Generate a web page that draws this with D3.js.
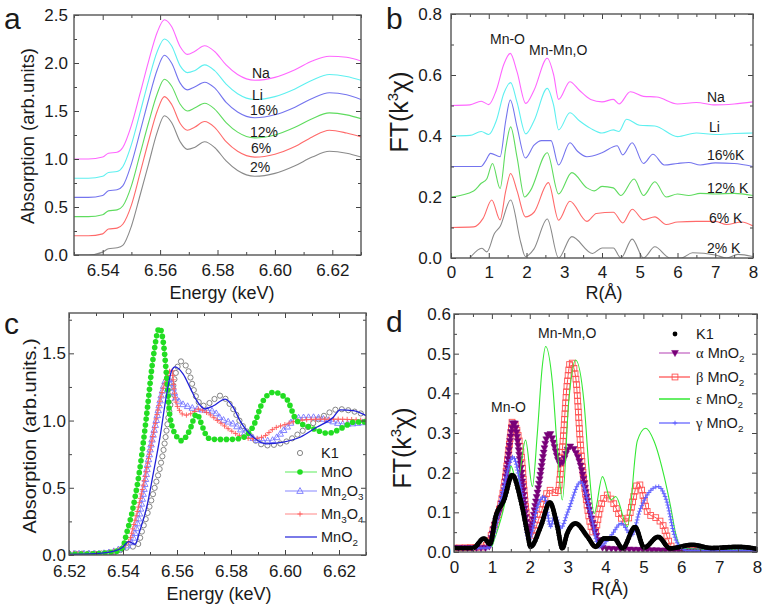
<!DOCTYPE html>
<html><head><meta charset="utf-8">
<script src="https://cdn.jsdelivr.net/npm/d3@7"></script>
<style>
body{margin:0;background:#fff}
svg{display:block}
text{font-family:"Liberation Sans",Arial,sans-serif;fill:#1a1a1a}
</style>
</head><body>
<svg id="chart" width="768" height="613"></svg>
<script>
// ---------------- Panel a data (XANES, shifted) ----------------
const energyA=[6.530,6.535,6.540,6.542,6.545,6.547,6.550,6.553,6.556,6.559,6.5615,6.564,6.567,6.5695,6.572,6.5755,6.579,6.583,6.587,6.593,6.600,6.607,6.613,6.619,6.625,6.630];
const absNa =[1.00,1.00,1.02,1.06,1.07,1.12,1.35,1.68,2.02,2.32,2.45,2.38,2.17,2.09,2.12,2.18,2.12,1.98,1.88,1.82,1.85,1.93,2.02,2.07,2.06,2.02];
const absLi =[0.80,0.80,0.82,0.86,0.87,0.92,1.15,1.48,1.82,2.12,2.25,2.18,1.97,1.90,1.92,1.98,1.92,1.78,1.68,1.62,1.65,1.73,1.82,1.88,1.86,1.82];
const abs16 =[0.60,0.60,0.62,0.67,0.68,0.72,0.95,1.28,1.62,1.93,2.08,2.00,1.79,1.72,1.75,1.80,1.74,1.59,1.49,1.43,1.46,1.54,1.63,1.69,1.67,1.62];
const abs12 =[0.40,0.40,0.42,0.46,0.47,0.51,0.72,1.05,1.38,1.68,1.83,1.76,1.57,1.50,1.53,1.58,1.52,1.38,1.28,1.22,1.25,1.33,1.42,1.48,1.46,1.42];
const abs6  =[0.20,0.20,0.22,0.27,0.28,0.32,0.52,0.85,1.19,1.50,1.65,1.57,1.37,1.30,1.33,1.39,1.33,1.18,1.08,1.02,1.05,1.13,1.23,1.30,1.27,1.23];
const abs2  =[0.00,0.00,0.03,0.065,0.075,0.10,0.30,0.62,0.95,1.28,1.45,1.38,1.18,1.10,1.12,1.18,1.12,0.98,0.88,0.82,0.85,0.93,1.02,1.08,1.06,1.02];
const labelsA=["Na","Li","16%","12%","6%","2%"];

// ---------------- Panel b data (FT, shifted) ----------------
const ftNa=[[0,0.50],[0.5,0.502],[0.8,0.514],[1.0,0.503],[1.2,0.55],[1.4,0.635],[1.57,0.671],[1.75,0.61],[1.98,0.507],[2.2,0.55],[2.55,0.655],[2.72,0.60],[2.85,0.52],[3.15,0.578],[3.4,0.55],[3.7,0.52],[4.0,0.512],[4.3,0.52],[4.45,0.505],[4.75,0.545],[5.1,0.53],[5.45,0.528],[6.0,0.505],[6.5,0.51],[7.0,0.502],[7.5,0.505],[8.0,0.512]];
const ftLi=[[0,0.40],[0.5,0.402],[0.8,0.415],[1.0,0.405],[1.2,0.45],[1.4,0.54],[1.58,0.575],[1.75,0.51],[1.98,0.407],[2.2,0.45],[2.55,0.556],[2.72,0.50],[2.85,0.42],[3.15,0.476],[3.4,0.45],[3.7,0.425],[4.0,0.41],[4.3,0.42],[4.45,0.415],[4.65,0.455],[5.0,0.435],[5.4,0.433],[6.0,0.398],[6.5,0.41],[7.0,0.405],[7.5,0.408],[8.0,0.41]];
const ft16=[[0,0.30],[0.8,0.30],[0.9,0.315],[1.05,0.343],[1.3,0.332],[1.45,0.45],[1.57,0.518],[1.75,0.43],[1.97,0.328],[2.2,0.37],[2.4,0.385],[2.65,0.385],[2.85,0.305],[3.15,0.378],[3.35,0.35],[3.6,0.332],[4.0,0.345],[4.4,0.368],[4.55,0.338],[4.8,0.378],[5.1,0.31],[5.35,0.34],[5.65,0.305],[6.0,0.31],[6.3,0.313],[6.6,0.305],[7.0,0.312],[7.5,0.31],[8.0,0.30]];
const ft12=[[0,0.20],[0.6,0.22],[0.8,0.245],[0.95,0.26],[1.1,0.31],[1.3,0.228],[1.45,0.36],[1.58,0.43],[1.75,0.33],[1.95,0.20],[2.1,0.22],[2.55,0.345],[2.85,0.21],[3.2,0.28],[3.6,0.23],[3.8,0.22],[4.0,0.235],[4.3,0.23],[4.5,0.205],[4.85,0.259],[5.1,0.205],[5.4,0.25],[5.7,0.20],[6.0,0.21],[6.3,0.205],[6.6,0.212],[7.0,0.21],[7.5,0.212],[8.0,0.205]];
const ft6=[[0,0.10],[0.6,0.102],[0.85,0.13],[1.08,0.19],[1.3,0.125],[1.45,0.22],[1.58,0.277],[1.75,0.22],[1.97,0.135],[2.2,0.15],[2.58,0.247],[2.85,0.124],[3.15,0.186],[3.6,0.12],[3.85,0.146],[4.3,0.15],[4.55,0.115],[4.8,0.16],[5.1,0.125],[5.4,0.135],[5.7,0.11],[6.0,0.118],[6.5,0.12],[7.0,0.12],[7.3,0.11],[7.7,0.118],[8.0,0.105]];
const ft2=[[0.5,0.0],[0.82,0.032],[0.95,0.02],[1.15,0.08],[1.3,0.103],[1.58,0.19],[1.85,0.05],[1.97,0.005],[2.2,0.03],[2.55,0.128],[2.85,0.0],[3.2,0.07],[3.75,0.015],[4.0,0.033],[4.3,0.033],[4.5,0.0],[4.8,0.062],[5.1,0.0],[5.4,0.037],[5.8,0.0],[6.1,0.0],[6.4,0.017],[7.0,0.01],[7.3,0.0],[7.6,0.012],[8.0,0.005]];
const labelsB=["Na","Li","16%K","12% K","6% K","2% K"];

// ---------------- Panel c data (XANES references) ----------------
const k1C=[[6.520,0.01],[6.530,0.01],[6.537,0.02],[6.540,0.045],[6.5425,0.06],[6.545,0.065],[6.5475,0.21],[6.5512,0.46],[6.555,0.78],[6.5574,1.10],[6.5595,1.35],[6.5615,1.44],[6.564,1.38],[6.567,1.18],[6.5695,1.11],[6.572,1.13],[6.576,1.185],[6.580,1.11],[6.584,0.97],[6.588,0.87],[6.593,0.815],[6.600,0.84],[6.607,0.93],[6.614,1.03],[6.620,1.085],[6.625,1.07],[6.630,1.04]];
const mnoC=[[6.520,0.005],[6.530,0.01],[6.538,0.03],[6.5401,0.06],[6.5407,0.11],[6.5438,0.36],[6.5463,0.65],[6.5488,1.05],[6.5512,1.47],[6.5535,1.69],[6.555,1.57],[6.5562,1.32],[6.5574,1.03],[6.5599,0.88],[6.5617,0.85],[6.5645,0.92],[6.5673,1.05],[6.5695,0.95],[6.5715,0.87],[6.574,0.86],[6.580,0.86],[6.584,0.87],[6.5883,0.96],[6.592,1.15],[6.5957,1.21],[6.6006,1.16],[6.6043,1.00],[6.6093,0.95],[6.616,0.906],[6.6216,0.95],[6.6253,0.988],[6.630,0.99]];
const mn2o3C=[[6.520,0.01],[6.530,0.01],[6.537,0.03],[6.540,0.06],[6.5425,0.08],[6.5451,0.21],[6.5475,0.457],[6.550,0.78],[6.5525,1.02],[6.5543,1.2],[6.5562,1.31],[6.5575,1.30],[6.5599,1.16],[6.5648,1.10],[6.5697,1.08],[6.5735,1.07],[6.576,1.02],[6.5809,0.975],[6.5858,0.90],[6.5907,0.852],[6.5944,0.85],[6.6006,0.95],[6.6043,1.02],[6.6105,1.025],[6.6166,1.0],[6.6216,0.975],[6.630,0.99]];
const mn3o4C=[[6.520,0.01],[6.530,0.01],[6.537,0.03],[6.540,0.06],[6.5426,0.12],[6.5438,0.21],[6.5463,0.41],[6.5488,0.65],[6.5512,0.90],[6.5537,1.15],[6.5562,1.32],[6.558,1.38],[6.5593,1.17],[6.5611,1.07],[6.563,1.04],[6.566,1.06],[6.5679,1.085],[6.571,1.06],[6.575,1.0],[6.5809,0.913],[6.584,0.88],[6.588,0.865],[6.592,0.88],[6.5957,0.938],[6.600,0.97],[6.605,1.0],[6.612,1.01],[6.620,1.01],[6.630,1.0]];
const mno2C=[[6.520,0.005],[6.530,0.01],[6.537,0.03],[6.540,0.06],[6.542,0.10],[6.5445,0.08],[6.5463,0.185],[6.5488,0.357],[6.5512,0.605],[6.5537,0.876],[6.5562,1.2],[6.558,1.37],[6.5593,1.40],[6.5623,1.346],[6.5648,1.247],[6.5673,1.148],[6.5704,1.087],[6.5735,1.11],[6.5778,1.16],[6.5808,1.10],[6.5833,1.0],[6.5883,0.876],[6.5932,0.827],[6.5994,0.84],[6.6056,0.876],[6.6117,0.95],[6.6179,1.025],[6.6204,1.08],[6.6253,1.074],[6.630,1.037]];

// ---------------- Panel d data (FT references) ----------------
const k1D=[[0,0.01],[0.5,0.01],[0.79,0.034],[0.95,0.02],[1.1,0.089],[1.32,0.131],[1.54,0.194],[1.76,0.131],[1.94,0.047],[2.02,0.013],[2.29,0.064],[2.53,0.125],[2.73,0.064],[2.86,0.009],[2.99,0.047],[3.21,0.072],[3.52,0.039],[3.74,0.013],[3.96,0.034],[4.23,0.034],[4.45,0.009],[4.78,0.063],[5.02,0.011],[5.39,0.038],[5.70,0.009],[6.29,0.018],[6.8,0.01],[7.5,0.013],[8.0,0.008]];
const alphaD=[[0,0.01],[0.9,0.01],[1.06,0.064],[1.32,0.148],[1.58,0.329],[1.76,0.215],[1.98,0.047],[2.2,0.148],[2.51,0.30],[2.82,0.22],[3.06,0.266],[3.35,0.215],[3.52,0.131],[3.74,0.047],[3.96,0.009],[5.0,0.005],[6.0,0.003],[8.0,0.002]];
const betaD=[[0,0.01],[0.8,0.013],[1.06,0.064],[1.32,0.165],[1.50,0.30],[1.54,0.329],[1.76,0.257],[1.89,0.114],[2.02,0.039],[2.29,0.097],[2.51,0.156],[2.73,0.148],[2.86,0.257],[2.99,0.425],[3.08,0.48],[3.21,0.442],[3.35,0.257],[3.52,0.114],[3.70,0.047],[3.87,0.114],[4.03,0.144],[4.21,0.123],[4.42,0.085],[4.55,0.076],[4.87,0.173],[5.13,0.097],[5.35,0.085],[5.49,0.072],[5.75,0.013],[5.95,0.005],[8.0,0.003]];
const epsD=[[1.0,0.013],[1.06,0.03],[1.32,0.114],[1.45,0.18],[1.5,0.217],[1.67,0.173],[1.89,0.282],[2.07,0.165],[2.2,0.299],[2.33,0.467],[2.42,0.518],[2.6,0.425],[2.73,0.257],[2.86,0.131],[3.03,0.38],[3.21,0.484],[3.43,0.38],[3.56,0.215],[3.70,0.097],[3.92,0.19],[4.14,0.131],[4.27,0.14],[4.58,0.064],[4.84,0.28],[5.06,0.312],[5.28,0.28],[5.55,0.19],[5.72,0.114],[5.85,0.047],[6.03,0.009],[8.0,0.005]];
const gammaD=[[0,0.01],[0.9,0.01],[1.06,0.047],[1.32,0.165],[1.56,0.24],[1.76,0.165],[1.98,0.03],[2.2,0.114],[2.38,0.14],[2.55,0.064],[2.66,0.093],[2.82,0.06],[3.0,0.10],[3.35,0.177],[3.61,0.097],[3.83,0.013],[4.13,0.039],[4.42,0.072],[4.69,0.042],[4.91,0.106],[5.13,0.148],[5.39,0.165],[5.61,0.13],[5.83,0.039],[5.96,0.013],[6.2,0.003],[8.0,0.003]];

// ---------------- tick values ----------------
const ticksAx=[6.54,6.56,6.58,6.60,6.62], minorAx=[6.53,6.55,6.57,6.59,6.61,6.63];
const ticksAy=[0,0.5,1.0,1.5,2.0,2.5], minorAy=[0.25,0.75,1.25,1.75,2.25];
const ticksBx=[0,1,2,3,4,5,6,7,8], minorBx=[0.5,1.5,2.5,3.5,4.5,5.5,6.5,7.5];
const ticksBy=[0,0.2,0.4,0.6,0.8], minorBy=[0.1,0.3,0.5,0.7];
const ticksCx=[6.52,6.54,6.56,6.58,6.60,6.62], minorCx=[6.53,6.55,6.57,6.59,6.61,6.63];
const ticksCy=[0,0.5,1.0,1.5], minorCy=[0.25,0.75,1.25,1.75];
const ticksDx=[0,1,2,3,4,5,6,7,8], minorDx=[0.5,1.5,2.5,3.5,4.5,5.5,6.5,7.5];
const ticksDy=[0,0.1,0.2,0.3,0.4,0.5,0.6], minorDy=[0.05,0.15,0.25,0.35,0.45,0.55];

const colA=["#ff66ff","#5ef0f0","#7474ee","#5fdc5f","#ff6a6a","#8a8a8a"];

const svg=d3.select("#chart");
const FONT='"Liberation Sans",Arial,sans-serif';

function makePanel(c){
  const x=d3.scaleLinear().domain(c.xd).range([c.l,c.r]);
  const y=d3.scaleLinear().domain(c.yd).range([c.b,c.t]);
  const g=svg.append("g");
  svg.append("clipPath").attr("id","clip"+c.name).append("rect")
    .attr("x",c.l).attr("y",c.t).attr("width",c.r-c.l).attr("height",c.b-c.t);
  const plot=g.append("g").attr("clip-path",`url(#clip${c.name})`);
  return {x,y,g,plot,c};
}
function styleAxis(sel,fs){
  sel.attr("font-family",FONT).attr("font-size",fs);
  sel.select(".domain").remove();
  sel.selectAll("line").attr("stroke","#444").attr("stroke-width",1);
  sel.selectAll("text").attr("fill","#1a1a1a");
}
function drawAxes(P,o){
  const c=P.c, g=P.g.append("g");
  const fx=d3.format(o.fx), fy=d3.format(o.fy);
  const add=(axis,tr)=>{const s=g.append("g").attr("transform",tr).call(axis);styleAxis(s,17);return s;};
  add(d3.axisBottom(P.x).tickValues(o.xMinor).tickSize(-3).tickSizeOuter(0).tickFormat(""),`translate(0,${c.b})`);
  add(d3.axisBottom(P.x).tickValues(o.xMajor).tickSize(-5).tickSizeOuter(0).tickPadding(o.xpad).tickFormat(fx),`translate(0,${c.b})`);
  add(d3.axisTop(P.x).tickValues(o.xMinor).tickSize(-3).tickSizeOuter(0).tickFormat(""),`translate(0,${c.t})`);
  add(d3.axisTop(P.x).tickValues(o.xMajor).tickSize(-5).tickSizeOuter(0).tickFormat(""),`translate(0,${c.t})`);
  add(d3.axisLeft(P.y).tickValues(o.yMinor).tickSize(-3).tickSizeOuter(0).tickFormat(""),`translate(${c.l},0)`);
  add(d3.axisLeft(P.y).tickValues(o.yMajor).tickSize(-5).tickSizeOuter(0).tickPadding(o.ypad).tickFormat(fy),`translate(${c.l},0)`);
  add(d3.axisRight(P.y).tickValues(o.yMinor).tickSize(-3).tickSizeOuter(0).tickFormat(""),`translate(${c.r},0)`);
  add(d3.axisRight(P.y).tickValues(o.yMajor).tickSize(-5).tickSizeOuter(0).tickFormat(""),`translate(${c.r},0)`);
  g.append("rect").attr("x",c.l).attr("y",c.t).attr("width",c.r-c.l).attr("height",c.b-c.t)
    .attr("fill","none").attr("stroke","#555").attr("stroke-width",1.4);
}
function drawMarker(g,x,y,m){
  const s=m.size;
  if(m.type==="circle"){
    g.append("circle").attr("cx",x).attr("cy",y).attr("r",s).attr("fill",m.fill||"none").attr("stroke",m.stroke||"none").attr("stroke-width",m.sw||1);
  }else if(m.type==="tri"){
    g.append("path").attr("d",`M${x},${y-s}L${x+s*0.95},${y+s*0.7}L${x-s*0.95},${y+s*0.7}Z`).attr("fill",m.fill||"none").attr("stroke",m.stroke||"none").attr("stroke-width",m.sw||1);
  }else if(m.type==="tridown"){
    g.append("path").attr("d",`M${x},${y+s}L${x+s*0.95},${y-s*0.7}L${x-s*0.95},${y-s*0.7}Z`).attr("fill",m.fill||"none").attr("stroke",m.stroke||"none").attr("stroke-width",m.sw||1);
  }else if(m.type==="square"){
    g.append("rect").attr("x",x-s).attr("y",y-s).attr("width",2*s).attr("height",2*s).attr("fill",m.fill||"none").attr("stroke",m.stroke).attr("stroke-width",m.sw||1);
  }else if(m.type==="plus"){
    g.append("path").attr("d",`M${x-s},${y}H${x+s}M${x},${y-s}V${y+s}`).attr("stroke",m.stroke).attr("stroke-width",m.sw||1);
  }
}
function drawSeries(P,data,o){
  const line=d3.line().x(d=>P.x(d[0])).y(d=>P.y(d[1])).curve(d3.curveMonotoneX);
  const path=P.plot.append("path").datum(data).attr("d",line).attr("fill","none")
    .attr("stroke",o.color).attr("stroke-width",o.lw||1);
  if(o.marker){
    const node=path.node(), L=node.getTotalLength(), mg=P.plot.append("g");
    for(let s=0;s<=L;s+=o.step){const p=node.getPointAtLength(s);drawMarker(mg,p.x,p.y,o.marker);}
  }
}
function txt(x,y,str,fs,anchor){
  return svg.append("text").attr("x",x).attr("y",y).attr("font-size",fs).attr("text-anchor",anchor||"start").text(str);
}
function yTitle(x,yc,fs,len,adj,build){
  const t=svg.append("text").attr("transform",`translate(${x},${yc}) rotate(-90)`).attr("text-anchor","middle").attr("font-size",fs);
  build(t);
  if(len) t.attr("textLength",len).attr("lengthAdjust",adj);
  return t;
}
function ftTitle(t){
  t.append("tspan").text("FT(k");
  t.append("tspan").attr("font-size","0.6em").attr("dy",-10).text("3");
  t.append("tspan").attr("dy",10).text("χ)");
}

// ================= Panel a =================
const cA={name:"A",l:74,r:361,t:15,b:255,xd:[6.53,6.63],yd:[0,2.5]};
const PA=makePanel(cA);
[absNa,absLi,abs16,abs12,abs6,abs2].forEach((vals,i)=>{
  drawSeries(PA,energyA.map((e,j)=>[e,vals[j]]),{color:colA[i],lw:1.1});
});
drawAxes(PA,{xMajor:ticksAx,xMinor:minorAx,yMajor:ticksAy,yMinor:minorAy,fx:".2f",fy:".1f",xpad:9,ypad:6});
const posA=[[252,78],[252,100],[250,115],[250,137],[251,153],[250,172]];
labelsA.forEach((s,i)=>txt(posA[i][0],posA[i][1],s,14));
yTitle(34,136,18,176,"spacingAndGlyphs",t=>t.text("Absorption (arb.units)"));
txt(222,299,"Energy (keV)",18,"middle");
txt(4,29,"a",30);

// ================= Panel b =================
const cB={name:"B",l:451,r:753,t:14,b:258,xd:[0,8],yd:[0,0.8]};
const PB=makePanel(cB);
[ftNa,ftLi,ft16,ft12,ft6,ft2].forEach((d,i)=>drawSeries(PB,d,{color:colA[i],lw:1.1}));
drawAxes(PB,{xMajor:ticksBx,xMinor:minorBx,yMajor:ticksBy,yMinor:minorBy,fx:"d",fy:".1f",xpad:8,ypad:9});
const posB=[[707,102],[709,132],[707,160],[707,193],[709,223],[707,253]];
labelsB.forEach((s,i)=>txt(posB[i][0],posB[i][1],s,14));
txt(490,44,"Mn-O",14);
txt(529,55,"Mn-Mn,O",14);
yTitle(408,112,25,null,null,ftTitle);
txt(604,299,"R(Å)",18,"middle");
txt(386,29,"b",30);

// ================= Panel c =================
const cC={name:"C",l:69,r:366,t:313,b:555,xd:[6.52,6.63],yd:[0,1.8]};
const PC=makePanel(cC);
const mk={
  k1:{type:"circle",size:2.6,fill:"none",stroke:"#777",sw:0.9},
  mno:{type:"circle",size:2.8,fill:"#22dd22",stroke:"none"},
  mn2o3:{type:"tri",size:3.4,fill:"none",stroke:"#7676ff",sw:0.9},
  mn3o4:{type:"plus",size:2.6,stroke:"#ff5a5a",sw:0.9}
};
drawSeries(PC,k1C,{color:"none",marker:mk.k1,step:6.5});
drawSeries(PC,mn2o3C,{color:"#9c9cff",lw:1,marker:mk.mn2o3,step:5});
drawSeries(PC,mn3o4C,{color:"#ff9a9a",lw:1,marker:mk.mn3o4,step:4.5});
drawSeries(PC,mnoC,{color:"#77ee77",lw:1,marker:mk.mno,step:6});
drawSeries(PC,mno2C,{color:"#2020d8",lw:1.3});
drawAxes(PC,{xMajor:ticksCx,xMinor:minorCx,yMajor:ticksCy,yMinor:minorCy,fx:".2f",fy:".1f",xpad:10,ypad:3});
// legend c
const legC=svg.append("g");
const legCrows=[
  {y:453,line:null,m:mk.k1,txt:[["K1"]]},
  {y:472,line:"#77ee77",m:mk.mno,txt:[["MnO"]]},
  {y:491,line:"#9c9cff",m:mk.mn2o3,txt:[["Mn"],["2",1],["O"],["3",1]]},
  {y:514,line:"#ff9a9a",m:mk.mn3o4,txt:[["Mn"],["3",1],["O"],["4",1]]},
  {y:537,line:"#2020d8",m:null,txt:[["MnO"],["2",1]]}
];
function legendRow(g,r,x0,x1,xm,xt,fs){
  if(r.line) g.append("line").attr("x1",x0).attr("x2",x1).attr("y1",r.y).attr("y2",r.y).attr("stroke",r.line).attr("stroke-width",r.lw||1.2);
  if(r.m) drawMarker(g,xm,r.y,r.m);
  const t=g.append("text").attr("x",xt).attr("y",r.y+5).attr("font-size",fs);
  let sub=false;
  r.txt.forEach(p=>{
    const ts=t.append("tspan");
    if(p[2]) ts.attr("font-family",'"Liberation Serif","Times New Roman",serif');
    if(p[1]){ts.attr("font-size",fs*0.68).attr("dy",sub?0:4);sub=true;}
    else{ if(sub){ts.attr("dy",-4);sub=false;} }
    ts.text(p[0]);
  });
}
legCrows.forEach(r=>legendRow(legC,r,285,317,300,321,14.5));
yTitle(36,436,19,195,"spacingAndGlyphs",t=>t.text("Absorption (arb.units.)"));
txt(219,600,"Energy (keV)",18,"middle");
txt(4,334,"c",30);

// ================= Panel d =================
const cD={name:"D",l:454,r:757,t:314,b:552,xd:[0,8],yd:[0,0.6]};
const PD=makePanel(cD);
const mkD={
  k1:{type:"circle",size:2.4,fill:"#000",stroke:"none"},
  alpha:{type:"tridown",size:3.6,fill:"#780078",stroke:"#780078",sw:0.5},
  beta:{type:"square",size:2.9,fill:"none",stroke:"#ff5252",sw:0.9},
  gamma:{type:"plus",size:2.3,stroke:"#5a5aff",sw:0.9}
};
drawSeries(PD,betaD,{color:"#ff4a4a",lw:1,marker:mkD.beta,step:5.5});
drawSeries(PD,alphaD,{color:"#c060c0",lw:1,marker:mkD.alpha,step:4.5});
drawSeries(PD,epsD,{color:"#33e833",lw:1.1});
drawSeries(PD,gammaD,{color:"#8080ff",lw:1,marker:mkD.gamma,step:3});
drawSeries(PD,k1D,{color:"#000",lw:1,marker:mkD.k1,step:1.5});
drawAxes(PD,{xMajor:ticksDx,xMinor:minorDx,yMajor:ticksDy,yMinor:minorDy,fx:"d",fy:".1f",xpad:9,ypad:3});
const legD=svg.append("g");
const legDrows=[
  {y:334,line:null,m:mkD.k1,txt:[["K1"]]},
  {y:353,line:"#c060c0",m:mkD.alpha,txt:[["α",0,1],[" MnO"],["2",1]]},
  {y:377,line:"#ff4a4a",m:mkD.beta,txt:[["β",0,1],[" MnO"],["2",1]]},
  {y:399,line:"#33e833",lw:1.5,m:null,txt:[["ε",0,1],[" MnO"],["2",1]]},
  {y:423,line:"#5a5aff",m:mkD.gamma,txt:[["γ",0,1],[" MnO"],["2",1]]}
];
legDrows.forEach(r=>legendRow(legD,r,659,690,675,696,14.5));
txt(491,412,"Mn-O",14);
txt(538,338,"Mn-Mn,O",14);
yTitle(411,448,25,null,null,ftTitle);
txt(610,595,"R(Å)",18,"middle");
txt(386,332,"d",30);
</script>
</body></html>
